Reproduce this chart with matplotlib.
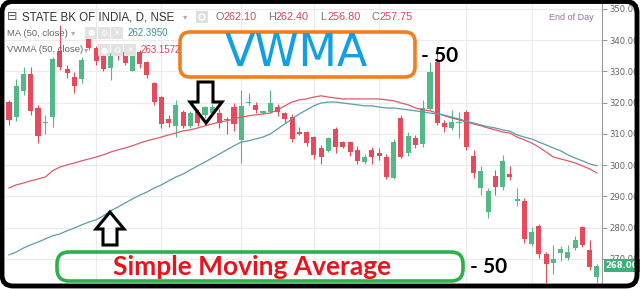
import matplotlib.pyplot as plt
from matplotlib.patches import FancyBboxPatch, Polygon, Rectangle

# daily OHLC, STATE BK OF INDIA (NSE)
opens = [320.2, 315.4, 323.8, 329.2, 318.3, 313.5, 315.4, 336.6, 330.8, 328.2,
         327.6, 342.3, 337.5, 335.3, 331.1, 336.2, 336.2, 330.2, 336.2, 333.0,
         326.3, 321.8, 314.8, 312.6, 317.0, 312.6, 317.0, 316.0, 316.7, 316.7,
         314.6, 318.6, 308.1, 319.8, 319.3, 316.8, 317.0, 318.6, 316.7, 315.5,
         310.6, 310.6, 309.0, 305.5, 304.6, 311.6, 307.4, 307.4, 304.9, 301.0,
         304.9, 303.9, 302.6, 295.9, 315.1, 303.9, 308.7, 306.8, 318.0, 333.0,
         313.5, 311.9, 313.4, 317.0, 303.0, 292.7, 285.0, 296.6, 293.0, 297.2,
         288.7, 288.6, 274.8, 280.6, 271.6, 268.7, 271.9, 270.3, 273.5, 280.2,
         272.9, 264.2]
highs = [321.0, 327.6, 331.4, 331.4, 319.3, 316.0, 334.6, 345.0, 332.0, 329.8,
         334.6, 343.5, 338.0, 337.0, 336.5, 337.5, 337.0, 337.8, 337.0, 333.5,
         326.6, 322.0, 316.0, 320.9, 317.7, 317.5, 318.0, 319.0, 319.5, 318.0,
         315.5, 320.0, 324.0, 323.0, 320.3, 317.5, 324.0, 319.6, 317.0, 316.5,
         312.2, 311.0, 309.5, 306.6, 309.0, 312.2, 307.8, 307.8, 306.0, 303.6,
         305.8, 305.5, 303.6, 308.4, 316.0, 310.6, 309.6, 320.9, 333.0, 337.5,
         314.6, 317.7, 317.0, 317.7, 304.9, 299.8, 292.8, 298.5, 303.3, 299.6,
         292.8, 289.4, 280.2, 281.3, 272.3, 274.5, 274.0, 274.5, 277.4, 280.4,
         276.1, 268.5]
lows = [313.0, 314.0, 322.5, 316.0, 307.0, 310.0, 312.2, 330.4, 328.0, 323.0,
        326.3, 337.0, 332.0, 330.0, 327.3, 333.7, 332.0, 330.0, 331.0, 328.0,
        319.3, 311.9, 312.2, 309.0, 312.0, 312.0, 312.5, 315.0, 316.0, 311.9,
        310.0, 311.0, 300.7, 319.3, 316.7, 316.5, 316.7, 315.8, 313.5, 307.5,
        309.6, 306.0, 302.0, 300.3, 304.2, 303.9, 305.5, 303.0, 300.3, 300.3,
        300.3, 301.6, 295.5, 295.5, 302.3, 303.0, 305.5, 305.8, 317.7, 313.0,
        310.6, 311.2, 308.7, 304.9, 295.9, 290.5, 283.0, 290.5, 292.1, 295.2,
        286.9, 275.0, 274.0, 270.3, 261.0, 265.2, 269.2, 269.6, 273.0, 273.9,
        266.4, 261.0]
closes = [314.5, 325.4, 329.2, 317.4, 309.4, 313.9, 334.0, 331.4, 329.5, 325.4,
          333.7, 337.5, 333.4, 330.8, 335.9, 335.0, 332.7, 335.9, 332.4, 328.9,
          320.2, 313.2, 313.5, 319.3, 312.6, 316.7, 313.5, 318.6, 318.6, 313.5,
          314.3, 313.2, 319.0, 320.1, 317.7, 317.2, 320.0, 317.0, 314.8, 308.4,
          310.1, 307.0, 303.3, 302.6, 308.7, 305.8, 305.8, 304.2, 301.4, 302.6,
          302.6, 303.0, 296.2, 307.4, 302.6, 309.4, 306.5, 318.3, 329.8, 313.5,
          312.2, 313.8, 313.6, 305.8, 297.5, 298.1, 291.8, 293.0, 301.4, 296.2,
          289.1, 276.4, 278.6, 271.6, 268.4, 270.0, 273.2, 272.3, 276.1, 274.5,
          267.4, 267.7]

# VWMA(50) - red line, MA(50) - blue line
vwma_50 = [292.7, 293.7, 294.3, 295.0, 295.6, 296.2, 298.2, 299.4, 300.1, 300.7,
           301.4, 302.0, 302.6, 303.3, 304.2, 304.9, 305.5, 306.2, 307.1, 307.8,
           308.4, 309.0, 309.7, 310.3, 311.0, 311.3, 311.9, 312.6, 313.2, 313.8,
           314.2, 314.8, 315.4, 315.8, 316.1, 316.4, 316.7, 317.7, 319.0, 320.2,
           320.9, 321.2, 321.8, 322.2, 321.8, 321.5, 321.2, 321.2, 321.2, 321.2,
           321.2, 321.2, 320.9, 320.6, 319.9, 319.3, 318.3, 317.7, 317.4, 316.7,
           315.8, 315.1, 314.5, 313.8, 313.2, 312.6, 311.9, 311.3, 310.6, 310.3,
           309.0, 308.1, 307.1, 305.8, 304.2, 302.6, 302.0, 301.4, 300.7, 299.8,
           298.8, 297.5]
sma_50 = [271.3, 272.2, 273.5, 274.5, 275.4, 276.4, 277.4, 278.0, 279.0, 279.9,
          280.9, 281.8, 282.5, 283.8, 285.4, 286.6, 287.9, 289.2, 290.4, 291.4,
          292.7, 293.7, 295.0, 296.2, 297.2, 298.5, 299.8, 301.0, 302.3, 303.6,
          304.9, 306.2, 307.4, 307.8, 308.4, 309.0, 310.0, 311.6, 313.2, 314.8,
          316.4, 317.7, 319.0, 319.9, 320.2, 320.2, 319.9, 319.6, 319.3, 319.0,
          319.0, 318.6, 318.3, 318.3, 318.0, 317.7, 317.4, 317.0, 316.7, 316.4,
          316.0, 315.4, 314.8, 314.1, 313.5, 312.9, 312.3, 311.9, 311.3, 310.9,
          309.7, 309.0, 308.4, 307.4, 306.5, 305.5, 304.6, 303.3, 302.3, 301.4,
          300.4, 299.8]

price_ticks = [270, 280, 290, 300, 310, 320, 330, 340, 350]
vgrid_idx = [12, 21, 32, 42, 51, 63, 72]
last_price = 268.00

UP = '#53b987'
DOWN = '#e8495b'

fig = plt.figure(figsize=(6.4, 2.89), dpi=100)
ax = fig.add_axes([5 / 640, 6 / 289, 597 / 640, 280 / 289])

for y in price_ticks:
    ax.axhline(y, color='#ebebeb', lw=0.8, zorder=0)
for i in vgrid_idx:
    ax.axvline(i, color='#ebebeb', lw=0.8, zorder=0)

n = len(opens)
xs = list(range(n))
colors = [UP if c >= o else DOWN for o, c in zip(opens, closes)]
ax.vlines(xs, lows, highs, colors=colors, lw=0.8, zorder=2)
bottoms = [min(o, c) for o, c in zip(opens, closes)]
heights = [max(abs(c - o), 0.45) for o, c in zip(opens, closes)]
ax.bar(xs, heights, bottom=bottoms, width=0.7, color=colors, zorder=3, lw=0)

ax.plot(xs, vwma_50, color='#df5a64', lw=0.9, zorder=4)
ax.plot(xs, sma_50, color='#5f9bab', lw=0.9, zorder=4)

ax.set_xlim(-0.55, 81.7)
ax.set_ylim(262.3, 351.9)
ax.set_xticks([])
ax.yaxis.tick_right()
ax.set_yticks(price_ticks)
ax.set_yticklabels([f'{v:.2f}' for v in price_ticks])
ax.tick_params(axis='y', length=3.5, width=0.6, color='#888', labelcolor='#666',
               labelsize=6.1, pad=1.5)
for s in ['top', 'left', 'bottom']:
    ax.spines[s].set_visible(False)
ax.spines['right'].set_color('#999')
ax.spines['right'].set_linewidth(0.8)

# last price tag
ax.annotate(f'{last_price:.2f}', xy=(1.0, last_price), xycoords=('axes fraction', 'data'),
            xytext=(2.5, 0), textcoords='offset points', ha='left', va='center',
            fontsize=6.1, color='white', fontweight='bold', zorder=10,
            bbox=dict(boxstyle='square,pad=0.22', fc='#41ad7c', ec='none'),
            annotation_clip=False)

# overlay in pixel coordinates for header and annotations
ov = fig.add_axes([0, 0, 1, 1], zorder=5)
ov.set_xlim(0, 640)
ov.set_ylim(289, 0)
ov.axis('off')
ov.patch.set_alpha(0)

hdr = dict(family='Liberation Sans', va='center')
ov.text(7, 17, '\u229f', fontsize=9, color='#555', family='DejaVu Sans', va='center')
ov.text(22, 17, 'STATE BK OF INDIA, D, NSE', fontsize=8.3, color='#333', **hdr)
ov.text(183, 17, '\u25be', fontsize=6, color='#aaa', family='DejaVu Sans', va='center')
ov.add_patch(Rectangle((196, 11), 12, 12, fc='#dedede', ec='none'))
ov.add_patch(plt.Circle((202, 17), 3, fc='none', ec='white', lw=1))
x = 216
for lab, val in [('O', '262.10'), ('H', '262.40'), ('L', '256.80'), ('C', '257.75')]:
    ov.text(x, 17, lab, fontsize=7.8, color='#777', **hdr)
    ov.text(x + 7, 17, val, fontsize=7.8, color='#d9455a', **hdr)
    x += 52
ov.text(594, 17, 'End of Day', fontsize=6.5, color='#9b6fa6', ha='right', va='center',
        family='Liberation Sans')

for row_y, name, arrow_x, box_x, val, col in [
        (33, 'MA (50, close)', 71, 85, '262.3950', '#3d8fb0'),
        (50, 'VWMA (50, close)', 84, 98, '263.1572', '#d9455a')]:
    ov.text(7, row_y, name, fontsize=6.8, color='#666', **hdr)
    ov.text(arrow_x, row_y, '\u25be', fontsize=6, color='#aaa', family='DejaVu Sans', va='center')
    for k, g in enumerate(['\u25cf', '\u2699', '\u00d7']):
        ov.add_patch(Rectangle((box_x + 13 * k, row_y - 6), 12, 12, fc='#e2e2e2', ec='none'))
        ov.text(box_x + 13 * k + 6, row_y, g, fontsize=6, color='white', ha='center',
                va='center', family='DejaVu Sans')
    ov.text(box_x + 43, row_y, val, fontsize=7, color=col, **hdr)

# VWMA callout
ov.add_patch(FancyBboxPatch((180, 32), 235, 45, boxstyle='round,pad=0,rounding_size=10',
                            fc='white', ec='#f07f22', lw=2.6))
ov.text(296, 54, 'VWMA', fontsize=32, color='#129fe6', ha='center', va='center',
        family='DejaVu Sans')
ov.text(421, 56, '- 50', fontsize=15, color='black', fontweight='bold', va='center',
        family='Lato')
ov.add_patch(Polygon([(198, 82), (213, 82), (213, 102), (222, 102), (206, 123),
                      (190, 102), (198, 102)], closed=True, fc='none', ec='black', lw=2.2))

# SMA callout
ov.add_patch(FancyBboxPatch((57, 252), 406, 29, boxstyle='round,pad=0,rounding_size=12',
                            fc='none', ec='#2bb24c', lw=2.6))
ov.text(252, 267, 'Simple Moving Average', fontsize=19, color='#e8141c', fontweight='bold',
        ha='center', va='center', family='Lato')
ov.text(470, 267, '- 50', fontsize=15, color='black', fontweight='bold', va='center',
        family='Lato')
ov.add_patch(Polygon([(110, 212), (124, 229), (117, 229), (117, 245), (103, 245),
                      (103, 229), (96, 229)], closed=True, fc='none', ec='black', lw=2.2))

# rounded outer frame
ov.add_patch(FancyBboxPatch((2, 1.5), 635, 284.5, boxstyle='round,pad=0,rounding_size=11',
                            fc='none', ec='black', lw=3.5))

fig.savefig('out.png', dpi=100)
